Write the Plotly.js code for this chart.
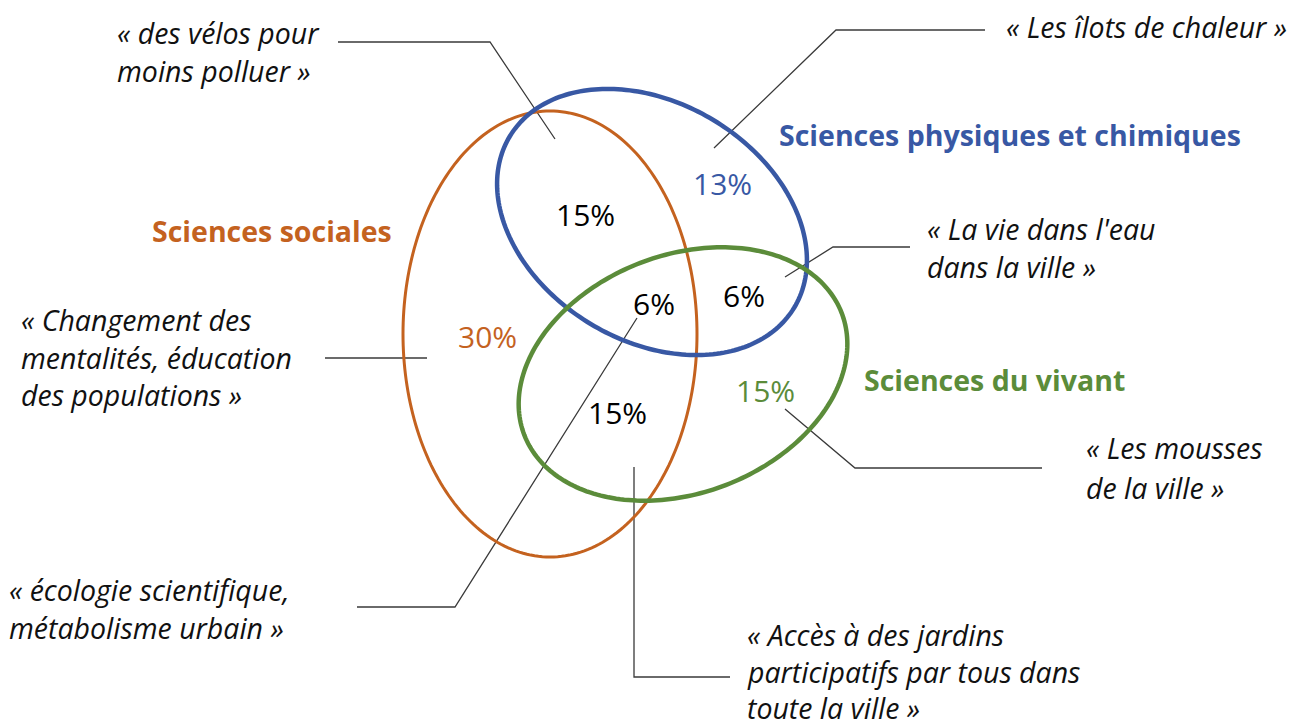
<!DOCTYPE html>
<html>
<head>
<meta charset="utf-8">
<script src="https://cdn.plot.ly/plotly-3.0.1.min.js"></script>
<style>
html,body{margin:0;padding:0;background:#fff;}
#chart{width:1301px;height:727px;}
</style>
</head>
<body>
<div id="chart"></div>
<script>
// ---------- DATA ----------
const setNames = ["Sciences sociales", "Sciences physiques et chimiques", "Sciences du vivant"];
const regionKeys = ["S", "P", "V", "SP", "PV", "SPV", "SV"];
const regionPercents = [30, 13, 15, 15, 6, 6, 15];
const quoteLines = [
  ["« des vélos pour", "moins polluer »"],
  ["« Les îlots de chaleur »"],
  ["« La vie dans l'eau", "dans la ville »"],
  ["« Changement des", "mentalités, éducation", "des populations »"],
  ["« Les mousses", "de la ville »"],
  ["« écologie scientifique,", "métabolisme urbain »"],
  ["« Accès à des jardins", "participatifs par tous dans", "toute la ville »"]
];

// ---------- STYLE / LAYOUT GEOMETRY ----------
const FONT = "'Open Sans', 'Noto Sans', sans-serif";
const setColors = ["#C4621F", "#3858A4", "#5B8C3A"];
const ellipses = [ // cx, cy, a, b, rotation(deg), width
  {cx: 550, cy: 334, a: 147, b: 223, rot: 0, w: 3},
  {cx: 652, cy: 222, a: 166, b: 119, rot: 31, w: 4.5},
  {cx: 683, cy: 374, a: 170, b: 119, rot: -21, w: 4.5}
];
const setLabelPos = [{x: 150, y: 231}, {x: 777, y: 135}, {x: 862, y: 380}];
const regionStyle = {
  S:   {x: 487, y: 336, c: setColors[0]},
  P:   {x: 722, y: 183, c: setColors[1]},
  V:   {x: 765, y: 390, c: setColors[2]},
  SP:  {x: 585, y: 214, c: "#000"},
  PV:  {x: 744, y: 295, c: "#000"},
  SPV: {x: 654, y: 303, c: "#000"},
  SV:  {x: 617, y: 412, c: "#000"}
};
const quotePos = [
  {x: 115, y: 33, dy: 38},
  {x: 1004, y: 27, dy: 38},
  {x: 925, y: 229, dy: 38},
  {x: 19, y: 320, dy: 37.5},
  {x: 1084, y: 448, dy: 40},
  {x: 7, y: 590, dy: 38},
  {x: 745, y: 635, dy: 36.5}
];
const leaders = [
  [[338, 42], [490, 42], [555, 139]],
  [[985, 30], [836, 30], [714, 148]],
  [[910, 247], [833, 247], [785, 277]],
  [[325, 358], [427, 358]],
  [[1042, 468], [855, 468], [785, 409]],
  [[357, 607], [455, 607], [637, 318]],
  [[730, 677], [634, 677], [634, 467]]
];

// ---------- BUILD ----------
function ellipsePath(e) {
  const n = 240, th = e.rot * Math.PI / 180;
  let d = "";
  for (let i = 0; i <= n; i++) {
    const t = 2 * Math.PI * i / n;
    const x = e.cx + e.a * Math.cos(th) * Math.cos(t) - e.b * Math.sin(th) * Math.sin(t);
    const y = e.cy + e.a * Math.sin(th) * Math.cos(t) + e.b * Math.cos(th) * Math.sin(t);
    d += (i === 0 ? "M" : "L") + x.toFixed(2) + "," + y.toFixed(2);
  }
  return d + "Z";
}

const shapes = [];
leaders.forEach(pts => {
  let d = pts.map((p, i) => (i === 0 ? "M" : "L") + p[0] + "," + p[1]).join("");
  shapes.push({type: "path", xref: "x", yref: "y", path: d, line: {color: "#3a3a3a", width: 1.3}});
});
ellipses.forEach((e, i) => {
  shapes.push({type: "path", xref: "x", yref: "y", path: ellipsePath(e),
    line: {color: setColors[i], width: e.w}, fillcolor: "rgba(0,0,0,0)"});
});

const annotations = [];
setNames.forEach((n, i) => {
  annotations.push({x: setLabelPos[i].x, y: setLabelPos[i].y, xref: "x", yref: "y",
    text: "<b>" + n + "</b>", showarrow: false, xanchor: "left", yanchor: "middle",
    font: {family: FONT, size: 28.5, color: setColors[i]}});
});
regionKeys.forEach((k, i) => {
  const s = regionStyle[k];
  annotations.push({x: s.x, y: s.y, xref: "x", yref: "y", text: regionPercents[i] + "%",
    showarrow: false, xanchor: "center", yanchor: "middle",
    font: {family: FONT, size: 30, color: s.c}});
});
quoteLines.forEach((lines, qi) => {
  const p = quotePos[qi];
  lines.forEach((ln, li) => {
    annotations.push({x: p.x, y: p.y + li * p.dy, xref: "x", yref: "y",
      text: "<i>" + ln + "</i>", showarrow: false, xanchor: "left", yanchor: "middle",
      font: {family: FONT, size: 28.5, color: "#111"}});
  });
});

const layout = {
  width: 1301, height: 727,
  margin: {l: 0, r: 0, t: 0, b: 0},
  paper_bgcolor: "#fff", plot_bgcolor: "#fff",
  showlegend: false,
  xaxis: {range: [0, 1301], visible: false, fixedrange: true},
  yaxis: {range: [727, 0], visible: false, fixedrange: true},
  shapes: shapes,
  annotations: annotations
};
Plotly.newPlot("chart", [{x: [], y: [], type: "scatter", mode: "lines", hoverinfo: "skip"}], layout, {staticPlot: true});
</script>
</body>
</html>
